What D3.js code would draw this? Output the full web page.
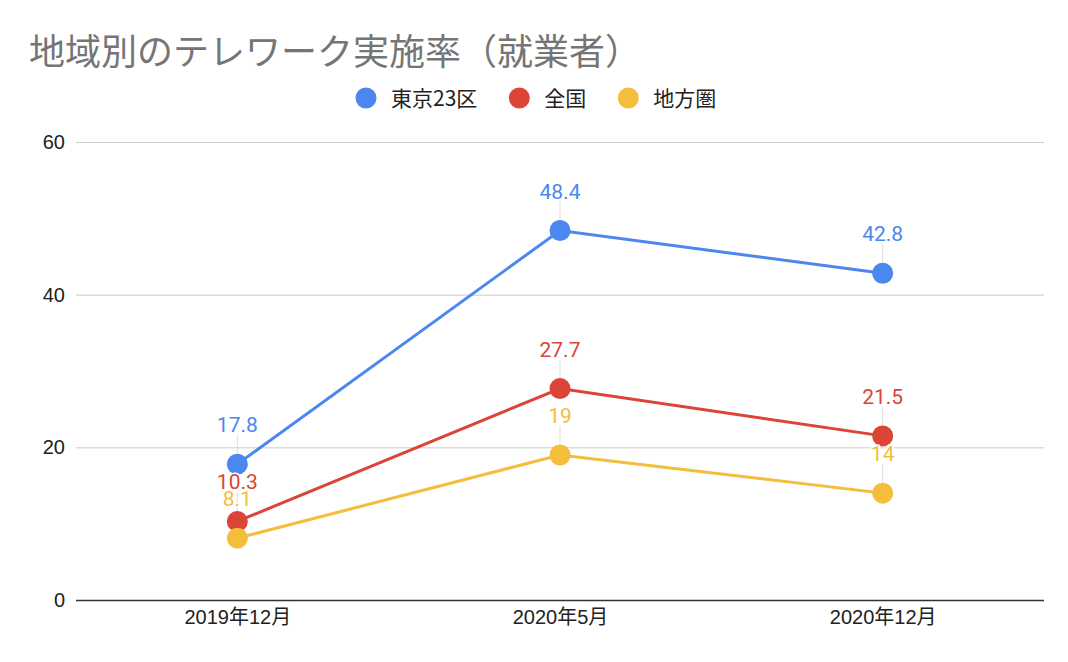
<!DOCTYPE html>
<html>
<head>
<meta charset="utf-8">
<script src="https://cdn.jsdelivr.net/npm/d3@7"></script>
<style>
  html, body { margin: 0; padding: 0; background: #fff; }
  svg { display: block; }
</style>
</head>
<body>
<svg id="chart" width="1068" height="662"></svg>
<script>
const categories = ["2019年12月", "2020年5月", "2020年12月"];
const seriesNames = ["東京23区", "全国", "地方圏"];
const tokyo23 = [17.8, 48.4, 42.8];
const national = [10.3, 27.7, 21.5];
const regional = [8.1, 19, 14];
const yTicks = [0, 20, 40, 60];
const colors = ["#4A87EE", "#DB4437", "#F4BD3B"];
const titleText = "地域別のテレワーク実施率（就業者）";

const series = [tokyo23, national, regional].map((vals, i) => ({
  name: seriesNames[i], color: colors[i],
  points: vals.map((v, j) => ({ cat: categories[j], v }))
}));

const svg = d3.select("#chart");
const plotLeft = 76, plotRight = 1044, plotTop = 142, plotBottom = 600;
const x = d3.scalePoint().domain(categories).range([plotLeft, plotRight]).padding(0.5);
const y = d3.scaleLinear().domain([0, 60]).range([plotBottom, plotTop]);

const numFont = "'Liberation Sans', Arial, 'Noto Sans CJK JP', sans-serif";
const cjkFont = "'Noto Sans CJK JP', 'Liberation Sans', sans-serif";

// Title
svg.append("text")
  .attr("x", 29).attr("y", 65)
  .attr("font-family", cjkFont)
  .attr("font-size", 36)
  .attr("fill", "#757575")
  .text(titleText);

// Y axis with grid
const yAxis = svg.append("g")
  .attr("transform", `translate(${plotLeft},0)`)
  .call(d3.axisLeft(y).tickValues(yTicks).tickSize(-(plotRight - plotLeft)).tickPadding(11).tickFormat(d3.format("d")));
yAxis.select(".domain").remove();
yAxis.selectAll(".tick line").attr("stroke", d => d === 0 ? "#333" : "#ccc").attr("stroke-width", d => d === 0 ? 1.5 : 1);
yAxis.selectAll(".tick text").attr("font-family", numFont).attr("font-size", 20).attr("fill", "#222");

// X axis labels
const xAxis = svg.append("g")
  .attr("transform", `translate(0,${plotBottom})`)
  .call(d3.axisBottom(x).tickSize(0).tickPadding(10));
xAxis.select(".domain").remove();
xAxis.selectAll(".tick text").attr("font-family", numFont).attr("font-size", 20).attr("fill", "#222");

const labelOffset = 32;
// Leader lines
series.forEach(s => {
  svg.append("g").selectAll("line").data(s.points).join("line")
    .attr("x1", d => x(d.cat)).attr("x2", d => x(d.cat))
    .attr("y1", d => y(d.v) - labelOffset + 3)
    .attr("y2", d => y(d.v))
    .attr("stroke", "#ddd").attr("stroke-width", 1);
});

// Lines
const line = d3.line().x(d => x(d.cat)).y(d => y(d.v));
series.forEach(s => {
  svg.append("path").datum(s.points)
    .attr("d", line).attr("fill", "none")
    .attr("stroke", s.color).attr("stroke-width", 3);
});
// Points
series.forEach(s => {
  svg.append("g").selectAll("circle").data(s.points).join("circle")
    .attr("cx", d => x(d.cat)).attr("cy", d => y(d.v)).attr("r", 10.5)
    .attr("fill", s.color);
});
// Data labels
series.forEach(s => {
  svg.append("g").selectAll("text").data(s.points).join("text")
    .attr("x", d => x(d.cat)).attr("y", d => y(d.v) - labelOffset)
    .attr("text-anchor", "middle")
    .attr("font-family", "Roboto, 'Liberation Sans', sans-serif")
    .attr("font-size", 21)
    .attr("fill", s.color)
    .attr("stroke", "#fff").attr("stroke-width", 3).attr("paint-order", "stroke")
    .text(d => String(d.v));
});

// Legend
const legend = svg.append("g").attr("transform", "translate(366,0)");
let cx = 0;
seriesNames.forEach((name, i) => {
  const g = legend.append("g");
  g.append("circle").attr("cx", cx).attr("cy", 98).attr("r", 10.5).attr("fill", colors[i]);
  const t = g.append("text").attr("x", cx + 25).attr("y", 106)
    .attr("font-family", cjkFont).attr("font-size", 21).attr("fill", "#222").text(name);
  const w = t.node().getComputedTextLength();
  cx = cx + 25 + w + 42;
});
</script>
</body>
</html>
